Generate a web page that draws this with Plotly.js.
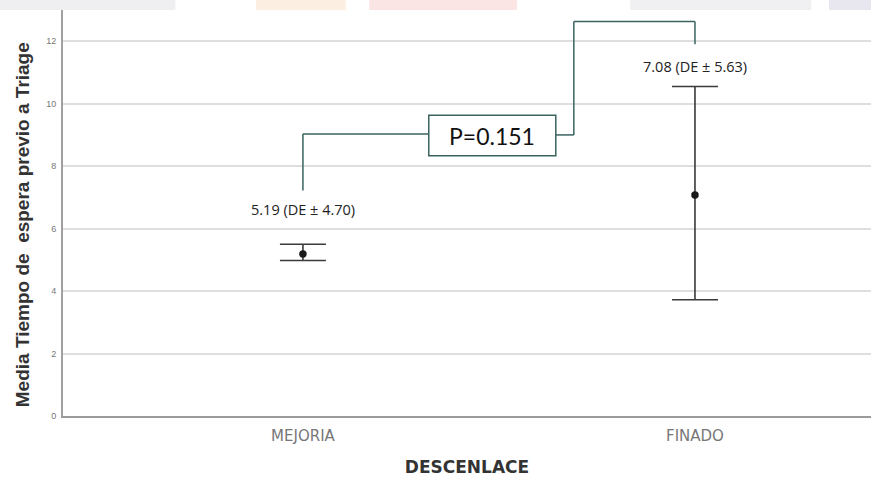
<!DOCTYPE html>
<html>
<head>
<meta charset="utf-8">
<script src="https://cdn.plot.ly/plotly-3.0.1.min.js"></script>
<style>html,body{margin:0;padding:0;background:#fff;}#chart{width:871px;height:482px;}</style>
</head>
<body>
<div id="chart"></div>
<script>
// Data
const categories = ["MEJORIA", "FINADO"];
const means = [5.19, 7.08];
const upperBounds = [5.50, 10.55];
const lowerBounds = [4.98, 3.72];
const meanLabels = ["5.19 (DE \u00b1 4.70)", "7.08 (DE \u00b1 5.63)"];
const labelY = [6.62, 11.2];
const pValueText = "P=0.151";
const yTickVals = [0, 2, 4, 6, 8, 10, 12];
const yTitle = "Media Tiempo de  espera previo a Triage";
const xTitle = "DESCENLACE";

const errPlus = means.map((m, i) => upperBounds[i] - m);
const errMinus = means.map((m, i) => m - lowerBounds[i]);

const teal = "#3a6360";

const trace = {
  type: "scatter",
  mode: "markers",
  x: categories,
  y: means,
  marker: {color: "#1a1a1a", size: 7.5},
  error_y: {
    type: "data", symmetric: false,
    array: errPlus, arrayminus: errMinus,
    color: "#3a3a3a", thickness: 1.6, width: 23
  },
  hoverinfo: "skip",
  showlegend: false
};

// bracket geometry (annotation lines, in data coordinates)
const boxX0 = 0.321, boxX1 = 0.645, boxY0 = 8.33, boxY1 = 9.63;
const shapes = [
  // faint header strips from the scan
  {type:"rect", xref:"paper", yref:"paper", x0:-0.078, x1:0.139, y0:1.0, y1:1.03, fillcolor:"#efeff2", line:{width:0}, layer:"below"},
  {type:"rect", xref:"paper", yref:"paper", x0:0.239, x1:0.350, y0:1.0, y1:1.03, fillcolor:"#fdeee2", line:{width:0}, layer:"below"},
  {type:"rect", xref:"paper", yref:"paper", x0:0.379, x1:0.562, y0:1.0, y1:1.03, fillcolor:"#fbe4e4", line:{width:0}, layer:"below"},
  {type:"rect", xref:"paper", yref:"paper", x0:0.702, x1:0.926, y0:1.0, y1:1.03, fillcolor:"#f0f0f2", line:{width:0}, layer:"below"},
  {type:"rect", xref:"paper", yref:"paper", x0:0.948, x1:1.0, y0:1.0, y1:1.03, fillcolor:"#e8e6ef", line:{width:0}, layer:"below"},
  // left bracket
  {type:"line", x0:0, x1:0, y0:7.22, y1:9.03, line:{color:teal, width:1.5}},
  {type:"line", x0:0, x1:boxX0, y0:9.03, y1:9.03, line:{color:teal, width:1.5}},
  // right bracket
  {type:"line", x0:boxX1, x1:0.691, y0:9.0, y1:9.0, line:{color:teal, width:1.5}},
  {type:"line", x0:0.691, x1:0.691, y0:9.0, y1:12.63, line:{color:teal, width:1.5}},
  {type:"line", x0:0.691, x1:1, y0:12.63, y1:12.63, line:{color:teal, width:1.5}},
  {type:"line", x0:1, x1:1, y0:12.63, y1:11.9, line:{color:teal, width:1.5}},
  // p-value box
  {type:"rect", x0:boxX0, x1:boxX1, y0:boxY0, y1:boxY1, line:{color:teal, width:1.5}, fillcolor:"#ffffff"}
];

const annotations = categories.map((c, i) => ({
  x: i, y: labelY[i], xref: "x", yref: "y",
  text: meanLabels[i], showarrow: false,
  font: {family: "'Open Sans', Lato, sans-serif", size: 14.5, color: "#222"}
}));
annotations.push({
  x: (boxX0 + boxX1) / 2, y: (boxY0 + boxY1) / 2, xref: "x", yref: "y",
  text: pValueText, showarrow: false,
  font: {family: "Lato, 'Open Sans', sans-serif", size: 23, color: "#111"}
});
// y-axis title placed like the reference (slightly below plot centre)
annotations.push({
  x: -0.0507, y: 0.47, xref: "paper", yref: "paper",
  xanchor: "center", yanchor: "middle",
  text: yTitle, showarrow: false, textangle: -90,
  font: {family: "'Liberation Sans', Arial, sans-serif", size: 19, color: "#333", weight: "bold"}
});

const layout = {
  width: 871, height: 482,
  margin: {l: 63, r: 0, t: 10, b: 66},
  paper_bgcolor: "#ffffff", plot_bgcolor: "#ffffff",
  showlegend: false,
  xaxis: {
    type: "category",
    range: [-0.612, 1.449],
    showgrid: false, zeroline: false,
    showline: true, linecolor: "#9a9a9a", linewidth: 2,
    ticks: "outside", ticklen: 5, tickcolor: "rgba(0,0,0,0)",
    tickfont: {family: "'DejaVu Sans', sans-serif", size: 15, color: "#777"},
    title: {text: xTitle, standoff: 17,
      font: {family: "'DejaVu Sans', sans-serif", size: 17, color: "#333", weight: "bold"}}
  },
  yaxis: {
    range: [0, 13],
    tickvals: yTickVals,
    showgrid: true, gridcolor: "#dedede", gridwidth: 2,
    zeroline: false,
    showline: true, linecolor: "#a0a0a0", linewidth: 2,
    ticks: "outside", ticklen: 3, tickcolor: "rgba(0,0,0,0)",
    tickfont: {family: "'Liberation Sans', Arial, sans-serif", size: 9, color: "#777"}
  },
  shapes: shapes,
  annotations: annotations
};

Plotly.newPlot("chart", [trace], layout, {displayModeBar: false, staticPlot: true});
</script>
</body>
</html>
